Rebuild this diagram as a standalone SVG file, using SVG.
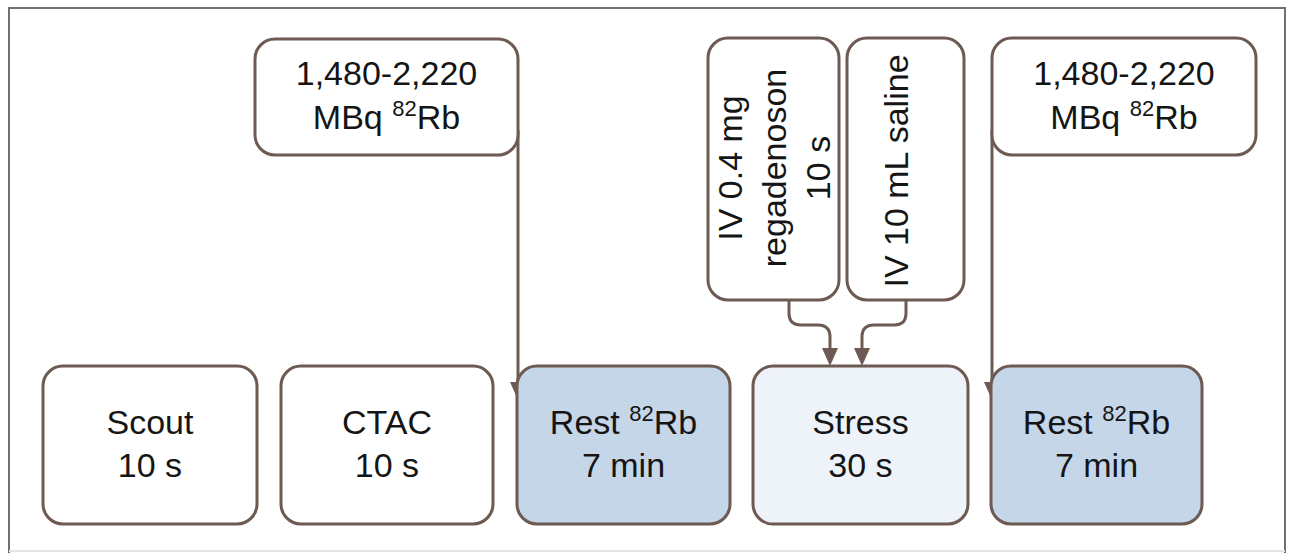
<svg xmlns="http://www.w3.org/2000/svg" width="1290" height="553" viewBox="0 0 1290 553">
  <style>
    .box { stroke: #6d5a52; stroke-width: 3; fill: #ffffff; }
    .rest { fill: #c6d6e9; }
    .stress { fill: #eef3f9; }
    .conn { stroke: #6d5a52; stroke-width: 3; fill: none; }
    .t { font-family: "Liberation Sans", Arial, sans-serif; font-size: 34px; fill: #151515; text-anchor: middle; }
    .sup { font-size: 22px; }
  </style>
  <defs>
    <marker id="arr" markerUnits="userSpaceOnUse" markerWidth="18" markerHeight="16" refX="14" refY="8" orient="auto">
      <path d="M0,0 L18,8 L0,16 Z" fill="#6d5a52"/>
    </marker>
  </defs>
  <rect width="1290" height="553" fill="#ffffff"/>
  <path d="M9,553 V8 H1285 V553" fill="none" stroke="#707070" stroke-width="2"/>
  <line x1="9" y1="551" x2="1285" y2="551" stroke="#e4e4e4" stroke-width="2"/>

  <g id="connectors">
    <path class="conn" d="M518,130 V396" marker-end="url(#arr)"/>
    <path class="conn" d="M992,130 V396" marker-end="url(#arr)"/>
    <path class="conn" d="M789,300 V313 Q789,325 801,325 H818 Q830,325 830,337 V362" marker-end="url(#arr)"/>
    <path class="conn" d="M906,300 V313 Q906,325 894,325 H874 Q862,325 862,337 V362" marker-end="url(#arr)"/>
  </g>

  <g id="dose1">
    <rect class="box" x="255" y="39" width="263" height="116" rx="20"/>
    <text class="t" x="386.5" y="85">1,480-2,220</text>
    <text class="t" x="386.5" y="129">MBq <tspan class="sup" dy="-13">82</tspan><tspan dy="13">Rb</tspan></text>
  </g>

  <g id="regadenoson">
    <rect class="box" x="708" y="38" width="131" height="262" rx="20"/>
    <text class="t" transform="translate(786,168) rotate(-90)"><tspan x="0" y="-44">IV 0.4 mg</tspan><tspan x="0" y="0">regadenoson</tspan><tspan x="0" y="44">10 s</tspan></text>
  </g>

  <g id="saline">
    <rect class="box" x="847" y="38" width="117" height="262" rx="20"/>
    <text class="t" transform="translate(908,171) rotate(-90)">IV 10 mL saline</text>
  </g>

  <g id="dose2">
    <rect class="box" x="992" y="38" width="264" height="117" rx="20"/>
    <text class="t" x="1124" y="85">1,480-2,220</text>
    <text class="t" x="1124" y="129">MBq <tspan class="sup" dy="-13">82</tspan><tspan dy="13">Rb</tspan></text>
  </g>

  <g id="scout">
    <rect class="box" x="43" y="366" width="214" height="158" rx="20"/>
    <text class="t" x="150" y="434">Scout</text>
    <text class="t" x="150" y="477">10 s</text>
  </g>

  <g id="ctac">
    <rect class="box" x="281" y="366" width="212" height="158" rx="20"/>
    <text class="t" x="387" y="434">CTAC</text>
    <text class="t" x="387" y="477">10 s</text>
  </g>

  <g id="rest1">
    <rect class="box rest" x="517" y="366" width="213" height="158" rx="20"/>
    <text class="t" x="623.5" y="434">Rest <tspan class="sup" dy="-13">82</tspan><tspan dy="13">Rb</tspan></text>
    <text class="t" x="623.5" y="477">7 min</text>
  </g>

  <g id="stress">
    <rect class="box stress" x="753" y="366" width="215" height="158" rx="20"/>
    <text class="t" x="860.5" y="434">Stress</text>
    <text class="t" x="860.5" y="477">30 s</text>
  </g>

  <g id="rest2">
    <rect class="box rest" x="991" y="366" width="211" height="158" rx="20"/>
    <text class="t" x="1096.5" y="434">Rest <tspan class="sup" dy="-13">82</tspan><tspan dy="13">Rb</tspan></text>
    <text class="t" x="1096.5" y="477">7 min</text>
  </g>
</svg>
